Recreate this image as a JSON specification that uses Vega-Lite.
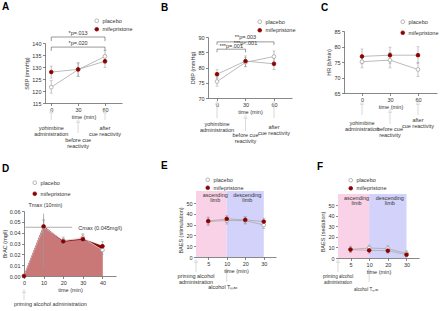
{
"$schema": "https://vega.github.io/schema/vega-lite/v6.json",
"padding": {"left": 2, "top": 2, "right": 0, "bottom": 0},
"datasets": {
"sbp": [
{"group":"placebo","time":0,"mean":121.6,"lo":119.1,"hi":124.3},
{"group":"placebo","time":30,"mean":128.9,"lo":126.0,"hi":131.6},
{"group":"placebo","time":60,"mean":134.4,"lo":131.5,"hi":137.0},
{"group":"mifepristone","time":0,"mean":127.9,"lo":125.4,"hi":130.4},
{"group":"mifepristone","time":30,"mean":129.0,"lo":126.2,"hi":131.8},
{"group":"mifepristone","time":60,"mean":132.4,"lo":129.8,"hi":135.0}],
"dbp": [
{"group":"placebo","time":0,"mean":75.4,"lo":73.9,"hi":76.9},
{"group":"placebo","time":30,"mean":81.7,"lo":80.2,"hi":83.3},
{"group":"placebo","time":60,"mean":83.6,"lo":81.8,"hi":85.4},
{"group":"mifepristone","time":0,"mean":77.8,"lo":76.3,"hi":79.3},
{"group":"mifepristone","time":30,"mean":82.1,"lo":80.3,"hi":83.8},
{"group":"mifepristone","time":60,"mean":81.2,"lo":79.3,"hi":83.1}],
"hr": [
{"group":"placebo","time":0,"mean":75.1,"lo":73.1,"hi":77.0},
{"group":"placebo","time":30,"mean":75.6,"lo":73.1,"hi":78.1},
{"group":"placebo","time":60,"mean":72.6,"lo":70.3,"hi":74.9},
{"group":"mifepristone","time":0,"mean":76.8,"lo":74.4,"hi":79.2},
{"group":"mifepristone","time":30,"mean":77.2,"lo":74.6,"hi":79.8},
{"group":"mifepristone","time":60,"mean":77.2,"lo":74.6,"hi":79.9}],
"brac": [
{"group":"placebo","time":0,"mean":0,"lo":0,"hi":0},
{"group":"placebo","time":10,"mean":0.045,"lo":0.037,"hi":0.051},
{"group":"placebo","time":20,"mean":0.0328,"lo":0.029,"hi":0.036},
{"group":"placebo","time":30,"mean":0.0352,"lo":0.032,"hi":0.039},
{"group":"placebo","time":40,"mean":0.024,"lo":0.02,"hi":0.028},
{"group":"mifepristone","time":0,"mean":0,"lo":0,"hi":0},
{"group":"mifepristone","time":10,"mean":0.0458,"lo":0.04,"hi":0.052},
{"group":"mifepristone","time":20,"mean":0.032,"lo":0.028,"hi":0.035},
{"group":"mifepristone","time":30,"mean":0.034,"lo":0.031,"hi":0.038},
{"group":"mifepristone","time":40,"mean":0.0275,"lo":0.024,"hi":0.032}],
"stim": [
{"group":"placebo","time":5,"mean":32.8,"lo":29,"hi":37},
{"group":"placebo","time":10,"mean":33.8,"lo":30.5,"hi":37},
{"group":"placebo","time":20,"mean":33.7,"lo":30.5,"hi":37},
{"group":"placebo","time":30,"mean":29.7,"lo":26.5,"hi":33},
{"group":"mifepristone","time":5,"mean":33.3,"lo":30,"hi":36.5},
{"group":"mifepristone","time":10,"mean":35.3,"lo":32,"hi":38.5},
{"group":"mifepristone","time":20,"mean":34.4,"lo":31,"hi":37.5},
{"group":"mifepristone","time":30,"mean":32.8,"lo":29.5,"hi":36}],
"sed": [
{"group":"placebo","time":5,"mean":8.1,"lo":5,"hi":11.2},
{"group":"placebo","time":10,"mean":9.4,"lo":6.5,"hi":12.3},
{"group":"placebo","time":20,"mean":8.8,"lo":5.8,"hi":11.8},
{"group":"placebo","time":30,"mean":4.4,"lo":2,"hi":6.8},
{"group":"mifepristone","time":5,"mean":8.0,"lo":5.5,"hi":10.5},
{"group":"mifepristone","time":10,"mean":7.2,"lo":4.5,"hi":9.9},
{"group":"mifepristone","time":20,"mean":6.9,"lo":4.2,"hi":9.6},
{"group":"mifepristone","time":30,"mean":3.1,"lo":1,"hi":5.2}]
},
"bounds": "flush",
"spacing": 172,
"resolve": {"scale": {"x":"independent","y":"independent","fill":"independent","stroke":"independent"}, "legend": {"fill":"independent","stroke":"independent"}, "axis": {"x":"independent","y":"independent"}},
"vconcat": [
{
"bounds": "flush", "spacing": 0,
"resolve": {"scale": {"x":"independent","y":"independent","fill":"independent","stroke":"independent"}, "legend": {"fill":"independent","stroke":"independent"}, "axis": {"x":"independent","y":"independent"}},
"hconcat": [
{"width": 21, "height": 1, "data": {"values": [{}]}, "mark": {"type": "point", "opacity": 0}},
{
"bounds": "flush", "spacing": 163,
"resolve": {"scale": {"x":"independent","y":"independent","fill":"independent","stroke":"independent"}, "legend": {"fill":"independent","stroke":"independent"}, "axis": {"x":"independent","y":"independent"}},
"hconcat": [
{
"bounds": "flush", "spacing": 0,
"resolve": {"scale": {"x":"independent","y":"independent","fill":"independent","stroke":"independent"}, "legend": {"fill":"independent","stroke":"independent"}, "axis": {"x":"independent","y":"independent"}},
"vconcat": [
{"width": 1, "height": 12, "data": {"values": [{}]}, "mark": {"type": "point", "opacity": 0}},
{
"width": 77, "height": 60,
"title": {"text": "A", "dx": -43},
"layer": [
{"data": {"name": "sbp"}, "mark": {"type": "errorbar", "ticks": {"size": 3}, "color": "#999", "thickness": 0.6},
 "encoding": {"x": {"field": "time", "type": "quantitative", "scale": {"domain": [-7, 79], "nice": false, "zero": false}, "axis": {"values": [0, 30, 60], "tickCount": 20, "title": "time (min)", "labelFlush": false}},
  "y": {"field": "lo", "type": "quantitative", "scale": {"domain": [115, 140], "nice": false, "zero": false}, "axis": {"values": [115, 120, 125, 130, 135, 140], "tickCount": 20, "title": "SBP (mmHg)"}}, "y2": {"field": "hi"}}},
{"data": {"name": "sbp"}, "mark": {"type": "line", "color": "#aaa", "strokeWidth": 0.8},
 "encoding": {"x": {"field": "time", "type": "quantitative"}, "y": {"field": "mean", "type": "quantitative", "title": "SBP (mmHg)"}, "detail": {"field": "group"}}},
{"data": {"name": "sbp"}, "mark": {"type": "circle", "size": 14, "strokeWidth": 0.7, "opacity": 1},
 "encoding": {"x": {"field": "time", "type": "quantitative"}, "y": {"field": "mean", "type": "quantitative", "title": "SBP (mmHg)"},
  "fill": {"field": "group", "type": "nominal", "scale": {"domain": ["placebo", "mifepristone"], "range": ["#ffffff", "#8b0000"]}, "legend": {"title": null, "orient": "none", "legendX": 49, "legendY": -25}},
  "stroke": {"field": "group", "type": "nominal", "scale": {"domain": ["placebo", "mifepristone"], "range": ["#999999", "#8b0000"]}, "legend": {"title": null, "orient": "none", "legendX": 49, "legendY": -25}}}},
{"data": {"values": [{}]}, "mark": {"type": "rule", "color": "#555", "strokeWidth": 0.6}, "encoding": {"x": {"datum": 0, "type": "quantitative"}, "x2": {"datum": 60}, "y": {"datum": 142.5, "type": "quantitative"}}},
{"data": {"values": [{"time": 0}, {"time": 60}]}, "mark": {"type": "rule", "color": "#555", "strokeWidth": 0.6}, "encoding": {"x": {"field": "time", "type": "quantitative"}, "y": {"datum": 140.8, "type": "quantitative"}, "y2": {"datum": 142.5}}},
{"data": {"values": [{}]}, "mark": {"type": "text", "fontSize": 5.5, "baseline": "bottom", "color": "#333"}, "encoding": {"x": {"datum": 30, "type": "quantitative"}, "y": {"datum": 143, "type": "quantitative"}, "text": {"value": "*p=.013"}}},
{"data": {"values": [{}]}, "mark": {"type": "rule", "color": "#555", "strokeWidth": 0.6}, "encoding": {"x": {"datum": 0, "type": "quantitative"}, "x2": {"datum": 60}, "y": {"datum": 138.3, "type": "quantitative"}}},
{"data": {"values": [{"time": 0}, {"time": 60}]}, "mark": {"type": "rule", "color": "#555", "strokeWidth": 0.6}, "encoding": {"x": {"field": "time", "type": "quantitative"}, "y": {"datum": 136.7, "type": "quantitative"}, "y2": {"datum": 138.3}}},
{"data": {"values": [{}]}, "mark": {"type": "text", "fontSize": 5.5, "baseline": "bottom", "color": "#333"}, "encoding": {"x": {"datum": 30, "type": "quantitative"}, "y": {"datum": 138.8, "type": "quantitative"}, "text": {"value": "*p=.020"}}},
{"data": {"values": [{"time": 0}, {"time": 60}]}, "mark": {"type": "rule", "color": "#c8c8c8", "strokeWidth": 0.7}, "encoding": {"x": {"field": "time", "type": "quantitative"}, "y": {"datum": 111.5, "type": "quantitative"}, "y2": {"datum": 107.9}}},
{"data": {"values": [{"time": 0}, {"time": 60}]}, "mark": {"type": "point", "shape": "triangle-up", "size": 12, "filled": true, "fill": "#fff", "stroke": "#bbb", "strokeWidth": 0.6}, "encoding": {"x": {"field": "time", "type": "quantitative"}, "y": {"datum": 111.5, "type": "quantitative"}}},
{"data": {"values": [{"time": 30}]}, "mark": {"type": "rule", "color": "#c8c8c8", "strokeWidth": 0.7}, "encoding": {"x": {"field": "time", "type": "quantitative"}, "y": {"datum": 107.5, "type": "quantitative"}, "y2": {"datum": 102.5}}},
{"data": {"values": [{"time": 30}]}, "mark": {"type": "point", "shape": "triangle-up", "size": 12, "filled": true, "fill": "#fff", "stroke": "#bbb", "strokeWidth": 0.6}, "encoding": {"x": {"field": "time", "type": "quantitative"}, "y": {"datum": 107.5, "type": "quantitative"}}},
{"data": {"values": [{"time": 0, "label": "yohimbine\nadministration"}, {"time": 60, "label": "after\ncue reactivity"}]}, "mark": {"type": "text", "fontSize": 5.5, "baseline": "top", "lineBreak": "\n", "lineHeight": 6, "color": "#333"}, "encoding": {"x": {"field": "time", "type": "quantitative"}, "y": {"datum": 105.6, "type": "quantitative"}, "text": {"field": "label"}}},
{"data": {"values": [{"time": 30, "label": "before cue\nreactivity"}]}, "mark": {"type": "text", "fontSize": 5.5, "baseline": "top", "lineBreak": "\n", "lineHeight": 6, "color": "#333"}, "encoding": {"x": {"field": "time", "type": "quantitative"}, "y": {"datum": 100.4, "type": "quantitative"}, "text": {"field": "label"}}}
]
}
]
},
{
"bounds": "flush", "spacing": 136,
"resolve": {"scale": {"x":"independent","y":"independent","fill":"independent","stroke":"independent"}, "legend": {"fill":"independent","stroke":"independent"}, "axis": {"x":"independent","y":"independent"}},
"hconcat": [
{
"bounds": "flush", "spacing": 0,
"resolve": {"scale": {"x":"independent","y":"independent","fill":"independent","stroke":"independent"}, "legend": {"fill":"independent","stroke":"independent"}, "axis": {"x":"independent","y":"independent"}},
"vconcat": [
{"width": 1, "height": 6, "data": {"values": [{}]}, "mark": {"type": "point", "opacity": 0}},
{
"width": 84, "height": 61,
"title": {"text": "B", "dx": -47},
"layer": [
{"data": {"name": "dbp"}, "mark": {"type": "errorbar", "ticks": {"size": 3}, "color": "#999", "thickness": 0.6},
 "encoding": {"x": {"field": "time", "type": "quantitative", "scale": {"domain": [-9.5, 79], "nice": false, "zero": false}, "axis": {"values": [0, 30, 60], "tickCount": 20, "title": "time (min)", "labelFlush": false}},
  "y": {"field": "lo", "type": "quantitative", "scale": {"domain": [70, 90], "nice": false, "zero": false}, "axis": {"values": [70, 75, 80, 85, 90], "tickCount": 20, "title": "DBP (mmHg)"}}, "y2": {"field": "hi"}}},
{"data": {"name": "dbp"}, "mark": {"type": "line", "color": "#aaa", "strokeWidth": 0.8},
 "encoding": {"x": {"field": "time", "type": "quantitative"}, "y": {"field": "mean", "type": "quantitative", "title": "DBP (mmHg)"}, "detail": {"field": "group"}}},
{"data": {"name": "dbp"}, "mark": {"type": "circle", "size": 14, "strokeWidth": 0.7, "opacity": 1},
 "encoding": {"x": {"field": "time", "type": "quantitative"}, "y": {"field": "mean", "type": "quantitative", "title": "DBP (mmHg)"},
  "fill": {"field": "group", "type": "nominal", "scale": {"domain": ["placebo", "mifepristone"], "range": ["#ffffff", "#8b0000"]}, "legend": {"title": null, "orient": "none", "legendX": 49, "legendY": -18}},
  "stroke": {"field": "group", "type": "nominal", "scale": {"domain": ["placebo", "mifepristone"], "range": ["#999999", "#8b0000"]}, "legend": {"title": null, "orient": "none", "legendX": 49, "legendY": -18}}}},
{"data": {"values": [{}]}, "mark": {"type": "rule", "color": "#555", "strokeWidth": 0.6}, "encoding": {"x": {"datum": 0, "type": "quantitative"}, "x2": {"datum": 60}, "y": {"datum": 88.4, "type": "quantitative"}}},
{"data": {"values": [{"time": 0}, {"time": 60}]}, "mark": {"type": "rule", "color": "#555", "strokeWidth": 0.6}, "encoding": {"x": {"field": "time", "type": "quantitative"}, "y": {"datum": 87.4, "type": "quantitative"}, "y2": {"datum": 88.4}}},
{"data": {"values": [{}]}, "mark": {"type": "text", "fontSize": 5.5, "baseline": "bottom", "lineBreak": "\n", "lineHeight": 5.5, "color": "#333"}, "encoding": {"x": {"datum": 30, "type": "quantitative"}, "y": {"datum": 89.0, "type": "quantitative"}, "text": {"value": "**p=.003\n***p<.001"}}},
{"data": {"values": [{}]}, "mark": {"type": "rule", "color": "#555", "strokeWidth": 0.6}, "encoding": {"x": {"datum": 0, "type": "quantitative"}, "x2": {"datum": 30}, "y": {"datum": 86.0, "type": "quantitative"}}},
{"data": {"values": [{"time": 0}, {"time": 30}]}, "mark": {"type": "rule", "color": "#555", "strokeWidth": 0.6}, "encoding": {"x": {"field": "time", "type": "quantitative"}, "y": {"datum": 85.0, "type": "quantitative"}, "y2": {"datum": 86.0}}},
{"data": {"values": [{}]}, "mark": {"type": "text", "fontSize": 5.5, "baseline": "bottom", "color": "#333"}, "encoding": {"x": {"datum": 15, "type": "quantitative"}, "y": {"datum": 86.1, "type": "quantitative"}, "text": {"value": "***p=.001"}}},
{"data": {"values": [{"time": 0}, {"time": 60}]}, "mark": {"type": "rule", "color": "#c8c8c8", "strokeWidth": 0.7}, "encoding": {"x": {"field": "time", "type": "quantitative"}, "y": {"datum": 68.4, "type": "quantitative"}, "y2": {"datum": 63.4}}},
{"data": {"values": [{"time": 0}, {"time": 60}]}, "mark": {"type": "point", "shape": "triangle-up", "size": 12, "filled": true, "fill": "#fff", "stroke": "#bbb", "strokeWidth": 0.6}, "encoding": {"x": {"field": "time", "type": "quantitative"}, "y": {"datum": 68.4, "type": "quantitative"}}},
{"data": {"values": [{"time": 30}]}, "mark": {"type": "rule", "color": "#c8c8c8", "strokeWidth": 0.7}, "encoding": {"x": {"field": "time", "type": "quantitative"}, "y": {"datum": 63.8, "type": "quantitative"}, "y2": {"datum": 59.2}}},
{"data": {"values": [{"time": 30}]}, "mark": {"type": "point", "shape": "triangle-up", "size": 12, "filled": true, "fill": "#fff", "stroke": "#bbb", "strokeWidth": 0.6}, "encoding": {"x": {"field": "time", "type": "quantitative"}, "y": {"datum": 63.8, "type": "quantitative"}}},
{"data": {"values": [{"time": 0, "label": "yohimbine\nadministration"}]}, "mark": {"type": "text", "fontSize": 5.5, "baseline": "top", "lineBreak": "\n", "lineHeight": 6, "color": "#333"}, "encoding": {"x": {"field": "time", "type": "quantitative"}, "y": {"datum": 62.1, "type": "quantitative"}, "text": {"field": "label"}}},
{"data": {"values": [{"time": 60, "label": "after\ncue reactivity"}]}, "mark": {"type": "text", "fontSize": 5.5, "baseline": "top", "lineBreak": "\n", "lineHeight": 6, "color": "#333"}, "encoding": {"x": {"field": "time", "type": "quantitative"}, "y": {"datum": 61.1, "type": "quantitative"}, "text": {"field": "label"}}},
{"data": {"values": [{"time": 30, "label": "before cue\nreactivity"}]}, "mark": {"type": "text", "fontSize": 5.5, "baseline": "top", "lineBreak": "\n", "lineHeight": 6, "color": "#333"}, "encoding": {"x": {"field": "time", "type": "quantitative"}, "y": {"datum": 58.4, "type": "quantitative"}, "text": {"field": "label"}}}
]
}
]
},
{
"width": 93, "height": 62,
"title": {"text": "C", "dx": -23},
"layer": [
{"data": {"name": "hr"}, "mark": {"type": "errorbar", "ticks": {"size": 3}, "color": "#999", "thickness": 0.6},
 "encoding": {"x": {"field": "time", "type": "quantitative", "scale": {"domain": [-19.3, 80.4], "nice": false, "zero": false}, "axis": {"values": [0, 30, 60], "tickCount": 20, "title": "time (min)", "labelFlush": false}},
  "y": {"field": "lo", "type": "quantitative", "scale": {"domain": [65, 85], "nice": false, "zero": false}, "axis": {"values": [65, 70, 75, 80, 85], "tickCount": 20, "title": "HR (b/min)"}}, "y2": {"field": "hi"}}},
{"data": {"name": "hr"}, "mark": {"type": "line", "color": "#aaa", "strokeWidth": 0.8},
 "encoding": {"x": {"field": "time", "type": "quantitative"}, "y": {"field": "mean", "type": "quantitative", "title": "HR (b/min)"}, "detail": {"field": "group"}}},
{"data": {"name": "hr"}, "mark": {"type": "circle", "size": 14, "strokeWidth": 0.7, "opacity": 1},
 "encoding": {"x": {"field": "time", "type": "quantitative"}, "y": {"field": "mean", "type": "quantitative", "title": "HR (b/min)"},
  "fill": {"field": "group", "type": "nominal", "scale": {"domain": ["placebo", "mifepristone"], "range": ["#ffffff", "#8b0000"]}, "legend": {"title": null, "orient": "none", "legendX": 56, "legendY": -12, "rowPadding": 3}},
  "stroke": {"field": "group", "type": "nominal", "scale": {"domain": ["placebo", "mifepristone"], "range": ["#999999", "#8b0000"]}, "legend": {"title": null, "orient": "none", "legendX": 56, "legendY": -12, "rowPadding": 3}}}},
{"data": {"values": [{"time": 0}, {"time": 60}]}, "mark": {"type": "rule", "color": "#c8c8c8", "strokeWidth": 0.7}, "encoding": {"x": {"field": "time", "type": "quantitative"}, "y": {"datum": 61.8, "type": "quantitative"}, "y2": {"datum": 57.9}}},
{"data": {"values": [{"time": 0}, {"time": 60}]}, "mark": {"type": "point", "shape": "triangle-up", "size": 12, "filled": true, "fill": "#fff", "stroke": "#bbb", "strokeWidth": 0.6}, "encoding": {"x": {"field": "time", "type": "quantitative"}, "y": {"datum": 61.8, "type": "quantitative"}}},
{"data": {"values": [{"time": 30}]}, "mark": {"type": "rule", "color": "#c8c8c8", "strokeWidth": 0.7}, "encoding": {"x": {"field": "time", "type": "quantitative"}, "y": {"datum": 59.2, "type": "quantitative"}, "y2": {"datum": 55}}},
{"data": {"values": [{"time": 30}]}, "mark": {"type": "point", "shape": "triangle-up", "size": 12, "filled": true, "fill": "#fff", "stroke": "#bbb", "strokeWidth": 0.6}, "encoding": {"x": {"field": "time", "type": "quantitative"}, "y": {"datum": 59.2, "type": "quantitative"}}},
{"data": {"values": [{"time": 0, "label": "yohimbine\nadministration"}]}, "mark": {"type": "text", "fontSize": 5.5, "baseline": "top", "lineBreak": "\n", "lineHeight": 6, "color": "#333"}, "encoding": {"x": {"field": "time", "type": "quantitative"}, "y": {"datum": 56, "type": "quantitative"}, "text": {"field": "label"}}},
{"data": {"values": [{"time": 60, "label": "after\ncue reactivity"}]}, "mark": {"type": "text", "fontSize": 5.5, "baseline": "top", "lineBreak": "\n", "lineHeight": 6, "color": "#333"}, "encoding": {"x": {"field": "time", "type": "quantitative"}, "y": {"datum": 56.9, "type": "quantitative"}, "text": {"field": "label"}}},
{"data": {"values": [{"time": 30, "label": "before cue\nreactivity"}]}, "mark": {"type": "text", "fontSize": 5.5, "baseline": "top", "lineBreak": "\n", "lineHeight": 6, "color": "#333"}, "encoding": {"x": {"field": "time", "type": "quantitative"}, "y": {"datum": 54, "type": "quantitative"}, "text": {"field": "label"}}}
]
}
]
}
]
}
]
},
{
"bounds": "flush", "spacing": 172,
"resolve": {"scale": {"x":"independent","y":"independent","fill":"independent","stroke":"independent"}, "legend": {"fill":"independent","stroke":"independent"}, "axis": {"x":"independent","y":"independent"}},
"hconcat": [
{
"bounds": "flush", "spacing": 0,
"resolve": {"scale": {"x":"independent","y":"independent","fill":"independent","stroke":"independent"}, "legend": {"fill":"independent","stroke":"independent"}, "axis": {"x":"independent","y":"independent"}},
"vconcat": [
{"width": 1, "height": 8, "data": {"values": [{}]}, "mark": {"type": "point", "opacity": 0}},
{
"width": 92, "height": 65,
"title": {"text": "D", "dx": -22},
"layer": [
{"data": {"name": "brac"}, "transform": [{"filter": "datum.group == 'mifepristone'"}], "mark": {"type": "area", "color": "#8b0000", "opacity": 1},
 "encoding": {"x": {"field": "time", "type": "quantitative", "scale": {"domain": [0, 46.9], "nice": false, "zero": false}, "axis": {"values": [0, 10, 20, 30, 40], "tickCount": 20, "title": "time (min)", "labelFlush": false}},
  "y": {"field": "mean", "type": "quantitative", "scale": {"domain": [0, 0.06], "nice": false, "zero": false}, "axis": {"values": [0, 0.01, 0.02, 0.03, 0.04, 0.05, 0.06], "tickCount": 20, "format": ".2f", "title": "BrAC (mg/l)"}}}},
{"data": {"name": "brac"}, "transform": [{"filter": "datum.group == 'placebo'"}], "mark": {"type": "area", "color": "#e6afaf", "opacity": 0.68},
 "encoding": {"x": {"field": "time", "type": "quantitative"}, "y": {"field": "mean", "type": "quantitative", "title": "BrAC (mg/l)"}}},
{"data": {"values": [{}]}, "mark": {"type": "rule", "color": "#999", "strokeWidth": 0.8}, "encoding": {"x": {"datum": 10, "type": "quantitative"}, "y": {"datum": 0.0065, "type": "quantitative"}, "y2": {"datum": 0.0575}}},
{"data": {"values": [{}]}, "mark": {"type": "rule", "color": "#999", "strokeWidth": 0.8}, "encoding": {"x": {"datum": 0.7, "type": "quantitative"}, "x2": {"datum": 24.6}, "y": {"datum": 0.045, "type": "quantitative"}}},
{"data": {"name": "brac"}, "transform": [{"filter": "datum.group == 'mifepristone'"}], "mark": {"type": "line", "color": "#8b0000", "strokeWidth": 0.8},
 "encoding": {"x": {"field": "time", "type": "quantitative"}, "y": {"field": "mean", "type": "quantitative", "title": "BrAC (mg/l)"}}},
{"data": {"name": "brac"}, "transform": [{"filter": "datum.group == 'placebo'"}], "mark": {"type": "line", "color": "#d8d8d8", "strokeWidth": 0.8},
 "encoding": {"x": {"field": "time", "type": "quantitative"}, "y": {"field": "mean", "type": "quantitative", "title": "BrAC (mg/l)"}}},
{"data": {"name": "brac"}, "mark": {"type": "errorbar", "ticks": {"size": 3}, "color": "#999", "thickness": 0.6},
 "encoding": {"x": {"field": "time", "type": "quantitative"}, "y": {"field": "lo", "type": "quantitative", "title": "BrAC (mg/l)"}, "y2": {"field": "hi"}}},
{"data": {"name": "brac"}, "mark": {"type": "circle", "size": 14, "strokeWidth": 0.7, "opacity": 1},
 "encoding": {"x": {"field": "time", "type": "quantitative"}, "y": {"field": "mean", "type": "quantitative", "title": "BrAC (mg/l)"},
  "fill": {"field": "group", "type": "nominal", "scale": {"domain": ["placebo", "mifepristone"], "range": ["#ffffff", "#8b0000"]}, "legend": {"title": null, "orient": "none", "legendX": 8, "legendY": -31, "rowPadding": 3}},
  "stroke": {"field": "group", "type": "nominal", "scale": {"domain": ["placebo", "mifepristone"], "range": ["#999999", "#8b0000"]}, "legend": {"title": null, "orient": "none", "legendX": 8, "legendY": -31, "rowPadding": 3}}}},
{"data": {"values": [{}]}, "mark": {"type": "text", "fontSize": 5.5, "baseline": "middle", "color": "#333"}, "encoding": {"x": {"datum": 10.9, "type": "quantitative"}, "y": {"datum": 0.0655, "type": "quantitative"}, "text": {"value": "Tmax (10min)"}}},
{"data": {"values": [{}]}, "mark": {"type": "text", "fontSize": 5.5, "baseline": "middle", "align": "left", "color": "#333"}, "encoding": {"x": {"datum": 27.7, "type": "quantitative"}, "y": {"datum": 0.0443, "type": "quantitative"}, "text": {"value": "Cmax (0.045mg/l)"}}},
{"data": {"values": [{"time": 0}]}, "mark": {"type": "rule", "color": "#c8c8c8", "strokeWidth": 0.7}, "encoding": {"x": {"field": "time", "type": "quantitative"}, "y": {"datum": -0.0139, "type": "quantitative"}, "y2": {"datum": -0.0222}}},
{"data": {"values": [{"time": 0}]}, "mark": {"type": "point", "shape": "triangle-up", "size": 12, "filled": true, "fill": "#fff", "stroke": "#bbb", "strokeWidth": 0.6}, "encoding": {"x": {"field": "time", "type": "quantitative"}, "y": {"datum": -0.0139, "type": "quantitative"}}},
{"data": {"values": [{"time": 0, "label": "priming alcohol administration"}]}, "mark": {"type": "text", "fontSize": 5.5, "baseline": "top", "align": "left", "dx": -10, "color": "#333"}, "encoding": {"x": {"field": "time", "type": "quantitative"}, "y": {"datum": -0.024, "type": "quantitative"}, "text": {"field": "label"}}}
]
}
]
},
{
"bounds": "flush", "spacing": 62,
"resolve": {"scale": {"x":"independent","y":"independent","fill":"independent","stroke":"independent"}, "legend": {"fill":"independent","stroke":"independent"}, "axis": {"x":"independent","y":"independent"}},
"hconcat": [
{
"width": 80, "height": 54,
"title": {"text": "E", "dx": -35},
"layer": [
{"data": {"values": [{}]}, "mark": {"type": "rect", "color": "#f9d2e8"}, "encoding": {"x": {"datum": 10, "type": "ordinal", "scale": {"type": "point", "domain": [5, 10, 20, 30], "padding": 0.66}, "axis": {"title": "time (min)", "labelAngle": 0}}, "x2": {"value": 0}, "y": {"datum": 0, "type": "quantitative", "scale": {"domain": [0, 50], "nice": false, "zero": false}, "axis": {"values": [0, 10, 20, 30, 40, 50], "tickCount": 20, "title": "BAES (stimulation)"}}, "y2": {"datum": 61.1}}},
{"data": {"values": [{}]}, "mark": {"type": "rect", "color": "#d2d2fa"}, "encoding": {"x": {"datum": 10, "type": "ordinal"}, "x2": {"datum": 30}, "y": {"datum": 0, "type": "quantitative"}, "y2": {"datum": 61.1}}},
{"data": {"values": [{"time": 5, "label": "ascending\nlimb"}]}, "mark": {"type": "text", "fontSize": 5.5, "baseline": "top", "lineBreak": "\n", "lineHeight": 5.5, "dx": 7, "color": "#333"}, "encoding": {"x": {"field": "time", "type": "ordinal"}, "y": {"datum": 59.3, "type": "quantitative"}, "text": {"field": "label"}}},
{"data": {"values": [{"time": 20, "label": "descending\nlimb"}]}, "mark": {"type": "text", "fontSize": 5.5, "baseline": "top", "lineBreak": "\n", "lineHeight": 5.5, "dx": 2, "color": "#333"}, "encoding": {"x": {"field": "time", "type": "ordinal"}, "y": {"datum": 59.3, "type": "quantitative"}, "text": {"field": "label"}}},
{"data": {"name": "stim"}, "mark": {"type": "errorbar", "ticks": {"size": 3}, "color": "#999", "thickness": 0.6},
 "encoding": {"x": {"field": "time", "type": "ordinal", "title": "time (min)"}, "y": {"field": "lo", "type": "quantitative", "title": "BAES (stimulation)"}, "y2": {"field": "hi"}}},
{"data": {"name": "stim"}, "mark": {"type": "line", "color": "#aaa", "strokeWidth": 0.8},
 "encoding": {"x": {"field": "time", "type": "ordinal", "title": "time (min)"}, "y": {"field": "mean", "type": "quantitative", "title": "BAES (stimulation)"}, "detail": {"field": "group"}}},
{"data": {"name": "stim"}, "mark": {"type": "circle", "size": 14, "strokeWidth": 0.7, "opacity": 1},
 "encoding": {"x": {"field": "time", "type": "ordinal", "title": "time (min)"}, "y": {"field": "mean", "type": "quantitative", "title": "BAES (stimulation)"},
  "fill": {"field": "group", "type": "nominal", "scale": {"domain": ["placebo", "mifepristone"], "range": ["#ffffff", "#8b0000"]}, "legend": {"title": null, "orient": "none", "legendX": 9, "legendY": -26, "rowPadding": 0}},
  "stroke": {"field": "group", "type": "nominal", "scale": {"domain": ["placebo", "mifepristone"], "range": ["#999999", "#8b0000"]}, "legend": {"title": null, "orient": "none", "legendX": 9, "legendY": -26, "rowPadding": 0}}}},
{"data": {"values": [{}]}, "mark": {"type": "rule", "color": "#c8c8c8", "strokeWidth": 0.7}, "encoding": {"x": {"value": 0}, "y": {"datum": -3.7, "type": "quantitative"}, "y2": {"datum": -13.9}}},
{"data": {"values": [{}]}, "mark": {"type": "point", "shape": "triangle-up", "size": 12, "filled": true, "fill": "#fff", "stroke": "#bbb", "strokeWidth": 0.6}, "encoding": {"x": {"value": 0}, "y": {"datum": -3.7, "type": "quantitative"}}},
{"data": {"values": [{}]}, "mark": {"type": "text", "fontSize": 5.5, "baseline": "top", "lineBreak": "\n", "lineHeight": 6, "color": "#333"}, "encoding": {"x": {"value": 0}, "y": {"datum": -15.7, "type": "quantitative"}, "text": {"value": "priming alcohol\nadministration"}}},
{"data": {"values": [{"time": 10}]}, "mark": {"type": "rule", "color": "#c8c8c8", "strokeWidth": 0.7}, "encoding": {"x": {"field": "time", "type": "ordinal"}, "y": {"datum": -12, "type": "quantitative"}, "y2": {"datum": -23.1}}},
{"data": {"values": [{"time": 10}]}, "mark": {"type": "point", "shape": "triangle-up", "size": 12, "filled": true, "fill": "#fff", "stroke": "#bbb", "strokeWidth": 0.6}, "encoding": {"x": {"field": "time", "type": "ordinal"}, "y": {"datum": -12, "type": "quantitative"}}},
{"data": {"values": [{"time": 10, "label": "alcohol Tₘₐₓ"}]}, "mark": {"type": "text", "fontSize": 5.5, "baseline": "top", "dx": -4, "color": "#333"}, "encoding": {"x": {"field": "time", "type": "ordinal"}, "y": {"datum": -25.5, "type": "quantitative"}, "text": {"field": "label"}}}
]
},
{
"bounds": "flush", "spacing": 0,
"resolve": {"scale": {"x":"independent","y":"independent","fill":"independent","stroke":"independent"}, "legend": {"fill":"independent","stroke":"independent"}, "axis": {"x":"independent","y":"independent"}},
"vconcat": [
{"width": 1, "height": 2, "data": {"values": [{}]}, "mark": {"type": "point", "opacity": 0}},
{
"width": 81, "height": 53,
"title": {"text": "F", "dx": -21},
"layer": [
{"data": {"values": [{}]}, "mark": {"type": "rect", "color": "#f9d2e8"}, "encoding": {"x": {"datum": 10, "type": "ordinal", "scale": {"type": "point", "domain": [5, 10, 20, 30], "padding": 0.67}, "axis": {"title": "time (min)", "labelAngle": 0}}, "x2": {"value": 0}, "y": {"datum": 0, "type": "quantitative", "scale": {"domain": [0, 50], "nice": false, "zero": false}, "axis": {"values": [0, 10, 20, 30, 40, 50], "tickCount": 20, "title": "BAES (sedation)"}}, "y2": {"datum": 60.4}}},
{"data": {"values": [{}]}, "mark": {"type": "rect", "color": "#d2d2fa"}, "encoding": {"x": {"datum": 10, "type": "ordinal"}, "x2": {"datum": 30}, "y": {"datum": 0, "type": "quantitative"}, "y2": {"datum": 60.4}}},
{"data": {"values": [{"time": 5, "label": "ascending\nlimb"}]}, "mark": {"type": "text", "fontSize": 5.5, "baseline": "top", "lineBreak": "\n", "lineHeight": 5.5, "dx": 6, "color": "#333"}, "encoding": {"x": {"field": "time", "type": "ordinal"}, "y": {"datum": 58.6, "type": "quantitative"}, "text": {"field": "label"}}},
{"data": {"values": [{"time": 20, "label": "descending\nlimb"}]}, "mark": {"type": "text", "fontSize": 5.5, "baseline": "top", "lineBreak": "\n", "lineHeight": 5.5, "dx": 2, "color": "#333"}, "encoding": {"x": {"field": "time", "type": "ordinal"}, "y": {"datum": 58.6, "type": "quantitative"}, "text": {"field": "label"}}},
{"data": {"name": "sed"}, "mark": {"type": "errorbar", "ticks": {"size": 3}, "color": "#999", "thickness": 0.6},
 "encoding": {"x": {"field": "time", "type": "ordinal", "title": "time (min)"}, "y": {"field": "lo", "type": "quantitative", "title": "BAES (sedation)"}, "y2": {"field": "hi"}}},
{"data": {"name": "sed"}, "mark": {"type": "line", "color": "#aaa", "strokeWidth": 0.8},
 "encoding": {"x": {"field": "time", "type": "ordinal", "title": "time (min)"}, "y": {"field": "mean", "type": "quantitative", "title": "BAES (sedation)"}, "detail": {"field": "group"}}},
{"data": {"name": "sed"}, "mark": {"type": "circle", "size": 14, "strokeWidth": 0.7, "opacity": 1},
 "encoding": {"x": {"field": "time", "type": "ordinal", "title": "time (min)"}, "y": {"field": "mean", "type": "quantitative", "title": "BAES (sedation)"},
  "fill": {"field": "group", "type": "nominal", "scale": {"domain": ["placebo", "mifepristone"], "range": ["#ffffff", "#8b0000"]}, "legend": {"title": null, "orient": "none", "legendX": 10, "legendY": -27.5, "rowPadding": 0}},
  "stroke": {"field": "group", "type": "nominal", "scale": {"domain": ["placebo", "mifepristone"], "range": ["#999999", "#8b0000"]}, "legend": {"title": null, "orient": "none", "legendX": 10, "legendY": -27.5, "rowPadding": 0}}}},
{"data": {"values": [{}]}, "mark": {"type": "rule", "color": "#c8c8c8", "strokeWidth": 0.7}, "encoding": {"x": {"value": 0}, "y": {"datum": -2.8, "type": "quantitative"}, "y2": {"datum": -13.2}}},
{"data": {"values": [{}]}, "mark": {"type": "point", "shape": "triangle-up", "size": 12, "filled": true, "fill": "#fff", "stroke": "#bbb", "strokeWidth": 0.6}, "encoding": {"x": {"value": 0}, "y": {"datum": -2.8, "type": "quantitative"}}},
{"data": {"values": [{}]}, "mark": {"type": "text", "fontSize": 4.5, "baseline": "top", "lineBreak": "\n", "lineHeight": 6, "color": "#333"}, "encoding": {"x": {"value": 0}, "y": {"datum": -15.1, "type": "quantitative"}, "text": {"value": "priming alcohol\nadministration"}}},
{"data": {"values": [{"time": 10}]}, "mark": {"type": "rule", "color": "#c8c8c8", "strokeWidth": 0.7}, "encoding": {"x": {"field": "time", "type": "ordinal"}, "y": {"datum": -11.3, "type": "quantitative"}, "y2": {"datum": -22.6}}},
{"data": {"values": [{"time": 10}]}, "mark": {"type": "point", "shape": "triangle-up", "size": 12, "filled": true, "fill": "#fff", "stroke": "#bbb", "strokeWidth": 0.6}, "encoding": {"x": {"field": "time", "type": "ordinal"}, "y": {"datum": -11.3, "type": "quantitative"}}},
{"data": {"values": [{"time": 10, "label": "alcohol Tₘₐₓ"}]}, "mark": {"type": "text", "fontSize": 4.5, "baseline": "top", "dx": -3, "color": "#333"}, "encoding": {"x": {"field": "time", "type": "ordinal"}, "y": {"datum": -27.4, "type": "quantitative"}, "text": {"field": "label"}}}
]
}
]
}
]
}
]
}
],
"config": {
"view": {"stroke": null},
"font": "Liberation Sans",
"axis": {"grid": false, "labelOverlap": false, "labelFontSize": 5.5, "titleFontSize": 5.5, "titleFontWeight": "normal", "domainColor": "#555", "tickColor": "#555", "labelColor": "#333", "titleColor": "#333", "tickSize": 2.5, "labelPadding": 1.5, "titlePadding": 2, "domainWidth": 0.7, "tickWidth": 0.7},
"legend": {"labelFontSize": 5.5, "symbolSize": 14, "rowPadding": 0.5, "labelColor": "#333", "symbolStrokeWidth": 0.7, "labelOffset": 3, "padding": 0},
"title": {"fontSize": 10, "fontWeight": "bold", "anchor": "start", "frame": "group", "offset": 6, "color": "#000"}
}
}
